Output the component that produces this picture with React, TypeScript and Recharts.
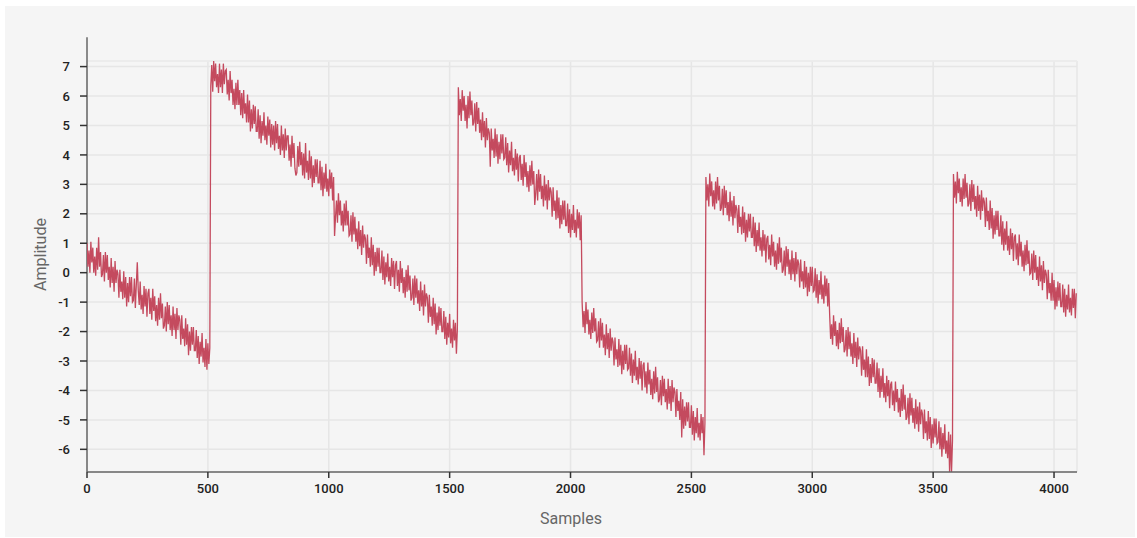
import React from 'react';
import { LineChart, Line, XAxis, YAxis, CartesianGrid, ReferenceLine, Label } from 'recharts';

// one value every 4 samples (8 blocks of 512 samples)
const STEP = 4;

const seg1 = [
  1.0, 0.2, 0.75, 0.0, 1.05, 0.35, 0.85, 0.0, 0.55, -0.1, 0.85, 0.1, 1.2, 0.2, 0.7, -0.15,
  -0.05, 0.6, -0.3, 0.7, 0.0, 0.6, -0.25, 0.2, -0.5, 0.5, -0.35, 0.2, -0.65, 0.4, -0.35, 0.1,
  -0.05, -0.85, 0.1, -0.65, -0.3, -0.9, 0.05, -0.85, -0.15, -1.15, -0.35, -1.0, -0.15, -0.8, -0.15, -1.0,
  -0.95, -0.2, -1.2, -0.4, 0.35, -0.6, -1.1, -0.3, -1.25, -0.75, -1.4, -0.45, -1.15, -0.55, -1.5, -0.7,
  -0.55, -1.4, -0.85, -1.6, -0.55, -1.3, -0.8, -1.65, -1.1, -1.8, -0.85, -1.6, -0.7, -1.55, -1.05, -1.9,
  -1.8, -1.15, -2.0, -1.0, -1.75, -1.1, -1.95, -1.45, -2.15, -1.15, -1.95, -1.4, -2.25, -1.2, -1.95, -1.45,
  -1.6, -2.45, -1.45, -2.25, -1.9, -2.5, -1.55, -2.45, -1.75, -2.8, -2.0, -2.65, -1.85, -2.45, -1.85, -2.65,
  -2.65, -1.95, -2.9, -2.15, -3.1, -2.35, -2.85, -2.05, -3.05, -2.55, -3.2, -2.25, -3.3, -2.4, -3.1, -2.55,
];
const seg2 = [
  6.35, 7.05, 6.15, 7.19, 6.5, 7.1, 6.3, 6.75, 6.1, 7.1, 6.3, 6.9, 6.1, 7.1, 6.4, 6.85,
  6.9, 6.05, 6.55, 5.85, 6.85, 6.1, 6.55, 5.7, 6.25, 5.55, 6.45, 5.7, 6.55, 5.7, 6.2, 5.35,
  6.1, 5.25, 6.2, 5.4, 5.75, 5.1, 6.05, 5.1, 5.85, 4.8, 5.55, 4.9, 5.7, 5.05, 5.65, 4.8,
  4.8, 5.55, 4.55, 5.35, 4.4, 5.15, 4.65, 5.45, 4.5, 5.0, 4.35, 5.3, 4.65, 5.2, 4.25, 5.05,
  4.35, 5.0, 4.15, 5.15, 4.4, 5.05, 4.2, 4.65, 4.0, 5.0, 4.15, 4.7, 3.9, 4.9, 4.15, 4.65,
  4.65, 3.8, 4.35, 3.6, 4.65, 3.9, 4.4, 3.55, 3.3, 3.4, 4.3, 3.6, 4.45, 3.65, 4.1, 3.3,
  4.05, 3.2, 4.4, 3.4, 3.8, 3.15, 4.15, 3.2, 3.95, 2.9, 3.65, 3.05, 3.85, 3.25, 3.85, 3.05,
  3.05, 3.8, 2.8, 3.6, 2.6, 3.4, 2.85, 3.7, 2.75, 3.2, 2.6, 3.5, 2.85, 3.4, 2.45, 3.25,
];
const seg3 = [
  1.25, 1.9, 2.45, 1.7, 2.7, 1.95, 2.45, 1.6, 2.1, 1.4, 2.35, 1.6, 2.45, 1.6, 2.1, 1.25,
  1.3, 1.95, 1.05, 2.05, 1.3, 1.9, 1.05, 1.5, 0.8, 1.75, 0.9, 1.45, 0.6, 1.6, 0.85, 1.3,
  1.15, 0.3, 1.3, 0.5, 0.85, 0.2, 1.2, 0.25, 0.95, -0.1, 0.7, 0.05, 0.85, 0.2, 0.85, 0.0,
  0.0, 0.75, -0.25, 0.55, -0.4, 0.35, -0.15, 0.65, -0.3, 0.2, -0.45, 0.5, -0.15, 0.4, -0.55, 0.25,
  0.4, -0.45, 0.1, -0.65, 0.4, -0.35, 0.15, -0.7, -0.15, -0.85, 0.1, -0.65, 0.25, -0.6, -0.1, -0.95,
  -0.85, -0.2, -1.1, -0.1, -0.85, -0.2, -1.05, -0.6, -1.3, -0.3, -1.15, -0.6, -1.45, -0.4, -1.15, -0.7,
  -0.85, -1.7, -0.75, -1.5, -1.15, -1.8, -0.85, -1.75, -1.05, -2.1, -1.35, -1.95, -1.15, -1.8, -1.2, -2.0,
  -2.0, -1.3, -2.25, -1.5, -2.45, -1.7, -2.2, -1.4, -2.4, -1.9, -2.55, -1.6, -2.3, -1.7, -2.75, -1.9,
];
const seg4 = [
  6.3, 5.35, 5.9, 5.15, 6.2, 5.5, 6.0, 5.15, 5.7, 4.9, 6.0, 5.25, 6.15, 5.35, 5.85, 5.0,
  5.1, 5.75, 4.8, 5.8, 5.05, 5.6, 4.75, 5.2, 4.5, 5.45, 4.6, 5.15, 4.25, 5.25, 4.5, 4.9,
  4.75, 3.6, 4.9, 4.15, 4.55, 3.9, 4.9, 3.95, 4.7, 3.7, 4.45, 3.85, 4.7, 4.05, 4.7, 3.85,
  3.9, 4.6, 3.65, 4.4, 3.4, 4.15, 3.65, 4.45, 3.45, 3.9, 3.3, 4.2, 3.5, 4.05, 3.1, 3.9,
  4.0, 3.15, 3.7, 2.95, 4.0, 3.25, 3.75, 2.9, 3.45, 2.75, 3.65, 2.95, 3.8, 3.0, 3.45, 2.3,
  2.7, 3.35, 2.45, 3.5, 2.75, 3.35, 2.5, 2.95, 2.25, 3.3, 2.45, 3.0, 2.15, 3.15, 2.45, 2.9,
  2.75, 1.9, 2.9, 2.1, 2.45, 1.8, 2.8, 1.85, 2.55, 1.5, 2.3, 1.65, 2.45, 1.8, 2.45, 1.6,
  1.6, 2.35, 1.35, 2.15, 1.2, 2.0, 1.45, 2.3, 1.35, 1.8, 1.2, 2.15, 1.5, 2.05, 1.1, 1.95,
];
const seg5 = [
  -1.0, -1.85, -1.3, -2.05, -1.0, -1.75, -1.25, -2.1, -1.6, -2.25, -1.35, -2.05, -1.2, -2.0, -1.55, -2.35,
  -2.3, -1.65, -2.55, -1.55, -2.3, -1.7, -2.55, -2.1, -2.8, -1.75, -2.6, -2.05, -2.9, -1.9, -2.65, -2.2,
  -2.35, -3.15, -2.2, -2.95, -2.6, -3.2, -2.25, -3.15, -2.45, -3.45, -2.65, -3.3, -2.45, -3.1, -2.45, -3.3,
  -3.25, -2.55, -3.5, -2.75, -3.75, -2.95, -3.5, -2.65, -3.65, -3.2, -3.8, -2.9, -3.6, -3.0, -4.0, -3.15,
  -3.05, -3.9, -3.35, -4.1, -3.05, -3.8, -3.3, -4.15, -3.6, -4.3, -3.35, -4.1, -3.2, -4.05, -3.55, -4.4,
  -4.3, -3.65, -4.5, -3.5, -4.2, -3.6, -4.4, -3.95, -4.65, -3.6, -4.45, -3.85, -4.7, -3.65, -4.4, -3.9,
  -4.05, -4.9, -3.95, -4.7, -4.35, -5.0, -4.05, -5.6, -4.3, -5.3, -4.55, -5.2, -4.4, -5.05, -4.4, -5.25,
  -5.25, -4.5, -5.5, -4.7, -5.7, -4.9, -5.45, -4.6, -5.6, -5.1, -5.7, -4.8, -5.45, -4.9, -6.2, -5.1,
];
const seg6 = [
  3.25, 2.45, 3.0, 2.25, 3.37, 2.6, 3.1, 2.25, 2.8, 2.15, 3.1, 2.35, 3.25, 2.45, 2.95, 2.1,
  2.2, 2.85, 1.95, 2.95, 2.2, 2.8, 1.95, 2.4, 1.75, 2.75, 1.9, 2.45, 1.6, 2.6, 1.85, 2.3,
  2.15, 1.35, 2.3, 1.55, 1.9, 1.3, 2.25, 1.35, 2.05, 1.05, 1.8, 1.2, 2.0, 1.4, 2.0, 1.2,
  1.2, 1.9, 0.9, 1.7, 0.7, 1.45, 0.9, 1.7, 0.75, 1.2, 0.55, 1.45, 0.75, 1.3, 0.35, 1.15,
  1.25, 0.45, 0.95, 0.25, 1.3, 0.55, 1.05, 0.2, 0.75, 0.1, 1.0, 0.3, 1.2, 0.35, 0.85, 0.0,
  0.1, 0.75, -0.1, 0.9, 0.2, 0.8, -0.05, 0.45, -0.25, 0.75, -0.05, 0.5, -0.3, 0.7, -0.05, 0.45,
  0.3, -0.5, 0.45, -0.3, 0.05, -0.55, 0.4, -0.5, 0.2, -0.8, 0.0, -0.65, 0.2, -0.45, 0.2, -0.65,
  -0.6, 0.15, -0.85, -0.05, -1.05, -0.25, -0.75, 0.05, -0.9, -0.4, -1.05, -0.1, -0.8, -0.2, -1.15, -0.35,
];
const seg7 = [
  -1.45, -2.25, -1.75, -2.45, -1.45, -2.15, -1.65, -2.5, -1.95, -2.6, -1.7, -2.4, -1.55, -2.35, -1.85, -2.7,
  -2.6, -1.95, -2.85, -1.85, -2.6, -2.0, -2.85, -2.4, -3.1, -2.05, -2.9, -2.35, -3.2, -2.2, -2.95, -2.5,
  -2.65, -3.5, -2.5, -3.3, -2.95, -3.55, -2.6, -3.55, -2.85, -3.85, -3.1, -3.75, -2.9, -3.55, -2.95, -3.75,
  -3.75, -3.05, -4.05, -3.25, -4.25, -3.5, -4.05, -3.25, -4.25, -3.75, -4.4, -3.5, -4.2, -3.65, -4.6, -3.8,
  -3.7, -4.5, -4.0, -4.7, -3.7, -4.4, -3.95, -4.75, -4.25, -4.9, -3.95, -4.7, -3.8, -4.65, -4.15, -5.0,
  -4.9, -4.25, -5.15, -4.1, -4.85, -4.25, -5.1, -4.6, -5.3, -4.3, -5.15, -4.55, -5.4, -4.4, -5.15, -4.65,
  -4.8, -5.65, -4.65, -5.45, -5.05, -5.7, -4.7, -5.65, -4.9, -5.95, -5.15, -5.8, -4.95, -5.6, -4.95, -5.8,
  -5.75, -5.05, -6.0, -5.25, -6.25, -5.45, -6.0, -5.15, -6.15, -5.7, -6.3, -5.4, -6.77, -5.5, -6.77, -5.7,
];
const seg8 = [
  3.35, 2.55, 3.1, 2.35, 3.43, 2.7, 3.2, 2.4, 2.9, 2.25, 3.2, 2.5, 3.35, 2.55, 3.05, 2.25,
  2.35, 3.0, 2.1, 3.15, 2.4, 3.0, 2.15, 2.6, 1.9, 2.95, 2.1, 2.65, 1.8, 2.8, 2.1, 2.55,
  2.4, 1.55, 2.55, 1.75, 2.1, 1.45, 2.45, 1.5, 2.2, 1.15, 1.95, 1.3, 2.1, 1.45, 2.1, 1.25,
  1.25, 1.95, 0.95, 1.75, 0.75, 1.5, 0.95, 1.75, 0.75, 1.25, 0.6, 1.5, 0.8, 1.35, 0.4, 1.2,
  1.3, 0.45, 1.0, 0.25, 1.3, 0.55, 1.05, 0.2, 0.75, 0.05, 0.95, 0.25, 1.1, 0.3, 0.75, -0.05,
  0.0, 0.65, -0.25, 0.75, 0.0, 0.6, -0.25, 0.2, -0.45, 0.55, -0.3, 0.25, -0.6, 0.4, -0.35, 0.1,
  -0.05, -0.9, 0.1, -0.7, -0.35, -0.95, 0.0, -0.95, -0.25, -1.25, -0.5, -1.15, -0.3, -0.95, -0.35, -1.15,
  -1.15, -0.4, -1.35, -0.55, -1.5, -0.75, -1.25, -0.4, -1.35, -0.85, -1.45, -0.55, -1.2, -0.55, -1.55, -0.7,
];

const xTicks = [0, 500, 1000, 1500, 2000, 2500, 3000, 3500, 4000];
const yTicks = [-6, -5, -4, -3, -2, -1, 0, 1, 2, 3, 4, 5, 6, 7];
const X_MAX = 4095;
const Y_MIN = -6.77;
const Y_MAX = 7.19;
const Y_AXIS_TOP = 8;

const segments = [seg1, seg2, seg3, seg4, seg5, seg6, seg7, seg8];
const data = segments.flat().map((v, i) => ({ n: i * STEP, v }));

const tickStyle = { fill: '#222', fontSize: 13, fontWeight: 500, fontFamily: 'Roboto' };

export default function App() {
  return (
    <div
      style={{
        position: 'absolute',
        left: 5,
        top: 6,
        width: 1130,
        height: 531,
        background: '#f5f5f5',
      }}
    >
      <LineChart
        width={1130}
        height={531}
        data={data}
        margin={{ top: 55, right: 58, bottom: 0, left: 0 }}
        style={{ fontFamily: 'Roboto' }}
      >
        <CartesianGrid stroke="#e6e6e6" strokeWidth={1.5} />
        <ReferenceLine y={Y_MAX} stroke="#ececec" strokeWidth={1.5} />
        <XAxis
          dataKey="n"
          type="number"
          domain={[0, X_MAX]}
          ticks={xTicks}
          interval={0}
          allowDataOverflow
          height={65}
          tickSize={6}
          tickMargin={6}
          axisLine={{ stroke: '#666', strokeWidth: 1.5 }}
          tickLine={{ stroke: '#333', strokeWidth: 1.5 }}
          tick={tickStyle}
        >
          <Label
            value="Samples"
            position="insideBottom"
            offset={13}
            dx={-11}
            fill="#666"
            style={{ fontSize: 16, fontFamily: 'Roboto', fill: '#666' }}
          />
        </XAxis>
        <YAxis
          type="number"
          domain={[Y_MIN, Y_MAX]}
          ticks={yTicks}
          interval={0}
          allowDataOverflow
          width={82}
          tickSize={7}
          tickMargin={10}
          axisLine={false}
          tickLine={{ stroke: '#333', strokeWidth: 1.5 }}
          tick={tickStyle}
        >
          <Label
            value="Amplitude"
            angle={-90}
            position="insideLeft"
            offset={35}
            dy={-12}
            fill="#666"
            style={{ fontSize: 16, fontFamily: 'Roboto', fill: '#666', textAnchor: 'middle' }}
          />
        </YAxis>
        <ReferenceLine
          segment={[{ x: 0, y: Y_MIN }, { x: 0, y: Y_AXIS_TOP }]}
          ifOverflow="visible"
          stroke="#666"
          strokeWidth={1.5}
        />
        <Line
          type="linear"
          dataKey="v"
          stroke="#c44a5e"
          strokeWidth={1.3}
          dot={false}
          activeDot={false}
          isAnimationActive={false}
        />
      </LineChart>
    </div>
  );
}
